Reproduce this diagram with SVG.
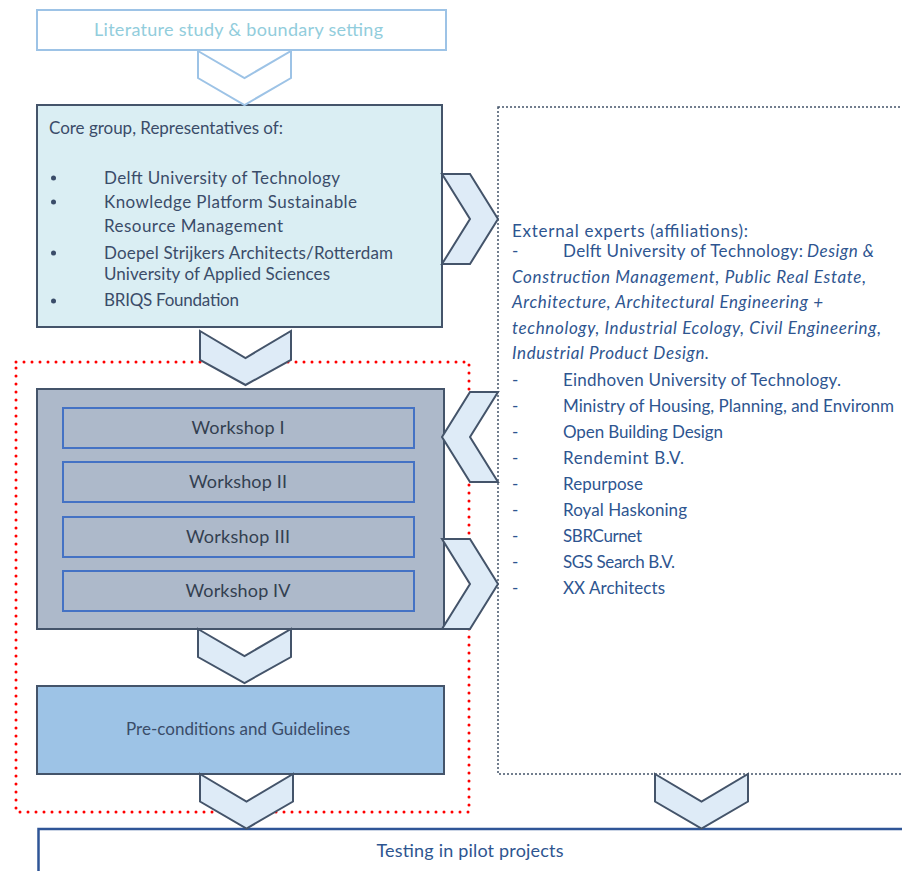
<svg xmlns="http://www.w3.org/2000/svg" width="902" height="871" viewBox="0 0 902 871">
<style>
text{font-family:Lato,"Liberation Sans","Noto Sans",sans-serif;}
.lit{font-size:18px;fill:#92CDDC;}
.core{font-size:17px;fill:#3A4C69;}
.ext{font-size:17px;fill:#2E5590;}
.it{font-style:italic;}
.ws{font-size:18px;fill:#333F50;}
.pre{font-size:17px;fill:#3A4C69;}
.test{font-size:18px;fill:#2E5590;}
.chev{fill:#DEEBF7;stroke:#44546A;stroke-width:2;stroke-linejoin:miter;}
.chev0{fill:#FFFFFF;stroke:#9DC3E6;stroke-width:2;}
.box{stroke:#44546A;stroke-width:2;}
.wsin{fill:none;stroke:#4472C4;stroke-width:2;}
</style>
<rect width="902" height="871" fill="#FFFFFF"/>

<g id="scope">
<rect x="16" y="362" width="453" height="450" fill="none" stroke="#FF0000" stroke-width="3" stroke-dasharray="0 8" stroke-linecap="round"/>
</g>

<g id="literature">
<rect x="37" y="10" width="409" height="40" fill="#FFFFFF" stroke="#9DC3E6" stroke-width="2"/>
<text class="lit" x="94" y="36" textLength="289" lengthAdjust="spacing">Literature  study &amp; boundary setting</text>
</g>

<g id="core">
<rect class="box" x="37" y="105" width="405" height="222" fill="#DAEEF3"/>
<text class="core" x="49" y="134" textLength="234" lengthAdjust="spacing">Core group, Representatives  of:</text>
<circle cx="53.5" cy="178" r="2.5" fill="#3A4C69"/>
<circle cx="53.5" cy="202" r="2.5" fill="#3A4C69"/>
<circle cx="53.5" cy="253" r="2.5" fill="#3A4C69"/>
<circle cx="53.5" cy="301" r="2.5" fill="#3A4C69"/>
<text class="core" x="104" y="184" textLength="236" lengthAdjust="spacing">Delft University of Technology</text>
<text class="core" x="104" y="208" textLength="253" lengthAdjust="spacing">Knowledge Platform Sustainable</text>
<text class="core" x="104" y="232" textLength="179" lengthAdjust="spacing">Resource Management</text>
<text class="core" x="104" y="259" textLength="289" lengthAdjust="spacing">Doepel Strijkers Architects/Rotterdam</text>
<text class="core" x="104" y="280" textLength="226" lengthAdjust="spacing">University of Applied Sciences</text>
<text class="core" x="104" y="306" textLength="135" lengthAdjust="spacing">BRIQS Foundation</text>
</g>

<g id="external">
<rect x="498" y="107" width="430" height="667" fill="#FFFFFF" stroke="#44546A" stroke-width="1.5" stroke-dasharray="2 2"/>
<text class="ext" x="512" y="237" font-size="18" textLength="236" lengthAdjust="spacing">External experts (affiliations):</text>
<text class="ext" x="512" y="257">-</text>
<text class="ext" x="563" y="257" textLength="240" lengthAdjust="spacing">Delft University of Technology:</text>
<text class="ext it" x="807" y="257" textLength="67" lengthAdjust="spacing">Design &amp;</text>
<text class="ext it" x="512" y="283" textLength="354" lengthAdjust="spacing">Construction  Management, Public Real  Estate,</text>
<text class="ext it" x="512" y="308" textLength="311" lengthAdjust="spacing">Architecture,  Architectural Engineering +</text>
<text class="ext it" x="512" y="334" textLength="369" lengthAdjust="spacing">technology,  Industrial Ecology, Civil  Engineering,</text>
<text class="ext it" x="512" y="359" textLength="197" lengthAdjust="spacing">Industrial  Product  Design.</text>
<text class="ext" x="512" y="386">-</text>
<text class="ext" x="563" y="386" textLength="278" lengthAdjust="spacing">Eindhoven University of Technology.</text>
<text class="ext" x="512" y="412">-</text>
<text class="ext" x="563" y="412" textLength="331" lengthAdjust="spacing">Ministry of Housing, Planning, and Environm</text>
<text class="ext" x="512" y="438">-</text>
<text class="ext" x="563" y="438" textLength="160" lengthAdjust="spacing">Open Building  Design</text>
<text class="ext" x="512" y="464">-</text>
<text class="ext" x="563" y="464" textLength="121" lengthAdjust="spacing">Rendemint  B.V.</text>
<text class="ext" x="512" y="490">-</text>
<text class="ext" x="563" y="490" textLength="80" lengthAdjust="spacing">Repurpose</text>
<text class="ext" x="512" y="516">-</text>
<text class="ext" x="563" y="516" textLength="124" lengthAdjust="spacing">Royal Haskoning</text>
<text class="ext" x="512" y="542">-</text>
<text class="ext" x="563" y="542" textLength="79" lengthAdjust="spacing">SBRCurnet</text>
<text class="ext" x="512" y="568">-</text>
<text class="ext" x="563" y="568" textLength="112" lengthAdjust="spacing">SGS Search B.V.</text>
<text class="ext" x="512" y="594">-</text>
<text class="ext" x="563" y="594" textLength="102" lengthAdjust="spacing">XX  Architects</text>
</g>

<g id="workshops">
<rect class="box" x="37" y="389" width="407" height="240" fill="#ADB9CA"/>
<g id="workshop1">
<rect class="wsin" x="63" y="408" width="351" height="40"/>
<text class="ws" x="238" y="434" text-anchor="middle" textLength="93" lengthAdjust="spacing">Workshop I</text>
</g>
<g id="workshop2">
<rect class="wsin" x="63" y="462" width="351" height="40"/>
<text class="ws" x="238" y="488" text-anchor="middle" textLength="98" lengthAdjust="spacing">Workshop II</text>
</g>
<g id="workshop3">
<rect class="wsin" x="63" y="517" width="351" height="40"/>
<text class="ws" x="238" y="543" text-anchor="middle" textLength="104" lengthAdjust="spacing">Workshop III</text>
</g>
<g id="workshop4">
<rect class="wsin" x="63" y="571" width="351" height="40"/>
<text class="ws" x="238" y="597" text-anchor="middle" textLength="105" lengthAdjust="spacing">Workshop IV</text>
</g>
</g>

<g id="preconditions">
<rect class="box" x="37" y="686" width="407" height="88" fill="#9DC3E6"/>
<text class="pre" x="238" y="735" text-anchor="middle" textLength="224" lengthAdjust="spacing">Pre-conditions and Guidelines</text>
</g>

<g id="testing">
<rect x="38.5" y="829" width="900" height="80" fill="#FFFFFF" stroke="#2F5597" stroke-width="2.5"/>
<text class="test" x="470" y="857" text-anchor="middle" textLength="187" lengthAdjust="spacing">Testing in pilot projects</text>
</g>

<g id="connectors">
<polygon class="chev0" points="198,51 244.5,78 291,51 291,78 244.5,105 198,78"/>
<polygon class="chev" points="200,331 245.5,358 291,331 291,360 245.5,385 200,360"/>
<polygon class="chev" points="198,629 244.5,656 291,629 291,657 244.5,683 198,657"/>
<polygon class="chev" points="200,774 246.5,801.5 293,774 293,801.5 246.5,828.5 200,801.5"/>
<polygon class="chev" points="442,174 470,174 498,219 470,264 442,264 470,219"/>
<polygon class="chev" points="498,392 470,392 442,437 470,482 498,482 470,437"/>
<polygon class="chev" points="442,539 470,539 498,584 470,629 442,629 470,584"/>
<polygon class="chev" points="655,774 701.5,801.5 748,774 748,801.5 701.5,828.5 655,801.5"/>
</g>
</svg>
